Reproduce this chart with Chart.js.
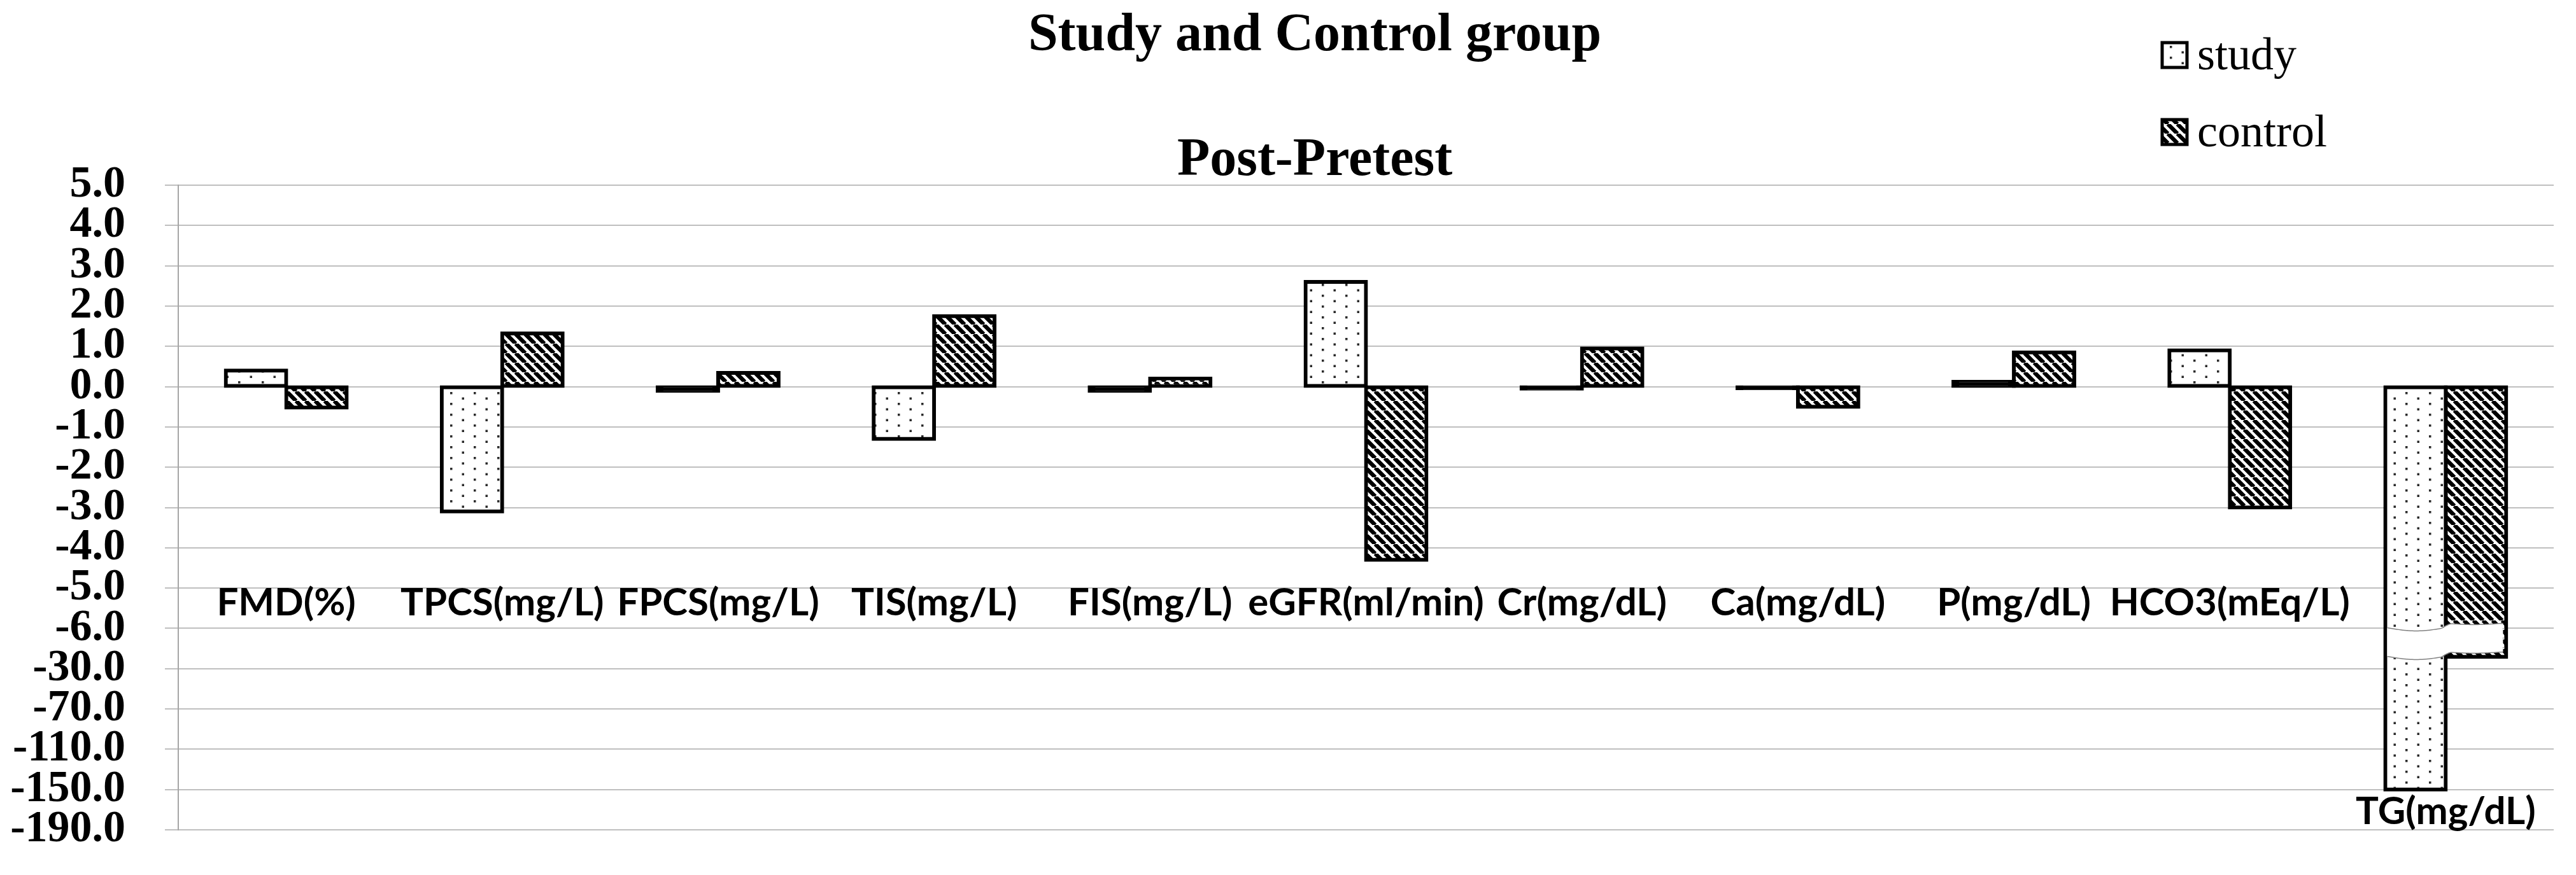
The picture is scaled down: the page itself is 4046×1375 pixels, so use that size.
<!DOCTYPE html>
<html>
<head>
<meta charset="utf-8">
<script src="https://cdn.jsdelivr.net/npm/chart.js@4.4.1/dist/chart.umd.min.js"></script>
<style>
  html, body { margin: 0; padding: 0; background: #fff; }
</style>
</head>
<body>
<canvas id="myChart" width="4046" height="1375"></canvas>
<script>
// categories and values
const categories = ['FMD(%)', 'TPCS(mg/L)', 'FPCS(mg/L)', 'TIS(mg/L)', 'FIS(mg/L)', 'eGFR(ml/min)',
    'Cr(mg/dL)', 'Ca(mg/dL)', 'P(mg/dL)', 'HCO3(mEq/L)', 'TG(mg/dL)'];
const studyValues = [0.4, -3.1, -0.1, -1.3, -0.1, 2.6, -0.05, -0.04, 0.12, 0.9, -150];
const controlValues = [-0.52, 1.32, 0.34, 1.75, 0.2, -4.3, 0.95, -0.5, 0.85, -3.0, -23];
// the value axis is broken: ticks are evenly spaced but not evenly valued
const tickValues = [5, 4, 3, 2, 1, 0, -1, -2, -3, -4, -5, -6, -30, -70, -110, -150, -190];

// map a real value onto the evenly spaced tick positions
function toPos(v) {
    for (let k = 0; k < tickValues.length - 1; k++) {
        const a = tickValues[k], b = tickValues[k + 1];
        if (v <= a && v >= b) {
            return tickValues[0] - k - (a - v) / (a - b);
        }
    }
    return v > tickValues[0] ? v : tickValues[0] - (tickValues.length - 1);
}

function dotPattern() {
    const c = document.createElement('canvas');
    c.width = 37; c.height = 17;
    const g = c.getContext('2d');
    g.fillStyle = '#fff';
    g.fillRect(0, 0, 37, 17);
    g.fillStyle = '#2a2a2a';
    g.fillRect(4, 4, 3.5, 3.5);
    g.fillRect(22.5, 12.5, 3.5, 3.5);
    return g.createPattern(c, 'repeat');
}

function hatchPattern() {
    const s = 15;
    const c = document.createElement('canvas');
    c.width = s; c.height = s;
    const g = c.getContext('2d');
    g.fillStyle = '#fff';
    g.fillRect(0, 0, s, s);
    g.strokeStyle = '#000';
    g.lineWidth = 6.4;
    g.beginPath();
    for (const k of [-1, 0, 1]) {
        g.moveTo(k * s, 0);
        g.lineTo(k * s + s, s);
    }
    g.stroke();
    return g.createPattern(c, 'repeat');
}

const studyFill = dotPattern();
const controlFill = hatchPattern();

// very short bars are swallowed by their own outline
function fillFor(pattern) {
    return ctx => {
        const v = ctx.raw;
        return (typeof v === 'number' && Math.abs(v) < 0.15) ? '#000' : pattern;
    };
}

// titles, legend, category labels and the axis-break band
const decor = {
    id: 'decor',
    afterDatasetsDraw(chart) {
        const ctx = chart.ctx;
        const y = chart.scales.y;
        const last = categories.length - 1;
        const ms = chart.getDatasetMeta(0).data[last];
        const mc = chart.getDatasetMeta(1).data[last];
        const bw = 3;
        const L = ms.x - ms.width / 2 + bw;
        const R = mc.x + mc.width / 2 - bw - 2;
        const t = y.getPixelForValue(toPos(-6)) - 1;
        const h = 45;
        const f = u => {
            const s = Math.min(1, Math.max(0, (u - 0.46) / 0.1));
            const step = s * s * (3 - 2 * s);
            const left = u < 0.5 ? 5 * Math.sin(Math.PI * u * 2) : 0;
            const right = u > 0.5 ? 2 * Math.sin(Math.PI * (u - 0.5) * 2) : 0;
            return left - 7 * step + right;
        };
        const n = 60;
        const pts = [];
        for (let i = 0; i <= n; i++) {
            const u = i / n;
            pts.push([L + (R - L) * u, t + f(u)]);
        }
        ctx.save();
        ctx.beginPath();
        pts.forEach((p, i) => i ? ctx.lineTo(p[0], p[1]) : ctx.moveTo(p[0], p[1]));
        for (let i = pts.length - 1; i >= 0; i--) ctx.lineTo(pts[i][0], pts[i][1] + h);
        ctx.closePath();
        ctx.fillStyle = '#fff';
        ctx.fill();
        ctx.strokeStyle = '#808080';
        ctx.lineWidth = 1.5;
        for (const off of [0, h]) {
            ctx.beginPath();
            pts.forEach((p, i) => i ? ctx.lineTo(p[0], p[1] + off) : ctx.moveTo(p[0], p[1] + off));
            ctx.stroke();
        }
        ctx.restore();
    },
    afterDraw(chart) {
        const ctx = chart.ctx;
        const x = chart.scales.x;
        const y = chart.scales.y;
        ctx.save();
        ctx.fillStyle = '#000';

        // titles
        ctx.font = 'bold 84px "Liberation Serif"';
        ctx.textAlign = 'center';
        ctx.textBaseline = 'alphabetic';
        ctx.fillText('Study and Control group', 2065, 79);
        ctx.fillText('Post-Pretest', 2065, 275);

        // category labels
        ctx.font = 'bold 60px Lato';
        categories.forEach((c, i) => {
            const pos = i === categories.length - 1 ? -10.85 : -5.68;
            ctx.fillText(c, x.getPixelForValue(i), y.getPixelForValue(pos));
        });

        // legend
        const items = chart.data.datasets;
        const fills = [studyFill, controlFill];
        ctx.font = '72px "Liberation Serif"';
        ctx.textAlign = 'left';
        items.forEach((ds, i) => {
            const top = 67 + i * 121;
            ctx.fillStyle = fills[i];
            ctx.fillRect(3396, top, 39, 39);
            ctx.strokeStyle = '#000';
            ctx.lineWidth = 5;
            ctx.strokeRect(3396, top, 39, 39);
            ctx.fillStyle = '#000';
            ctx.fillText(ds.label, 3451, top + 42);
        });
        ctx.restore();
    }
};

new Chart(document.getElementById('myChart'), {
    type: 'bar',
    data: {
        labels: categories,
        datasets: [{
            label: 'study',
            data: studyValues.map(toPos),
            backgroundColor: fillFor(studyFill),
            borderColor: '#000',
            borderWidth: 6,
            borderSkipped: false,
            inflateAmount: 3
        }, {
            label: 'control',
            data: controlValues.map(toPos),
            backgroundColor: fillFor(controlFill),
            borderColor: '#000',
            borderWidth: 6,
            borderSkipped: false,
            inflateAmount: 3
        }]
    },
    options: {
        responsive: false,
        animation: false,
        devicePixelRatio: 1,
        layout: {
            padding: { top: 291, left: 0, right: 35, bottom: 71 }
        },
        datasets: {
            bar: {
                categoryPercentage: 0.56,
                barPercentage: 1
            }
        },
        scales: {
            x: {
                display: false
            },
            y: {
                min: tickValues[0] - (tickValues.length - 1),
                max: tickValues[0],
                afterFit(scale) {
                    scale.width = 280;
                    scale.paddingTop = 40;
                    scale.paddingBottom = 40;
                },
                grid: {
                    color: '#bfbfbf',
                    lineWidth: 2,
                    tickLength: 21
                },
                border: {
                    color: '#a6a6a6',
                    width: 2
                },
                ticks: {
                    stepSize: 1,
                    autoSkip: false,
                    padding: 62,
                    color: '#000',
                    font: { family: '"Liberation Serif"', size: 70, weight: 'bold' },
                    callback: function (value) {
                        const k = Math.round(tickValues[0] - value);
                        return tickValues[k] !== undefined ? tickValues[k].toFixed(1) : '';
                    }
                }
            }
        },
        plugins: {
            legend: { display: false },
            tooltip: { enabled: false }
        }
    },
    plugins: [decor]
});
</script>
</body>
</html>
